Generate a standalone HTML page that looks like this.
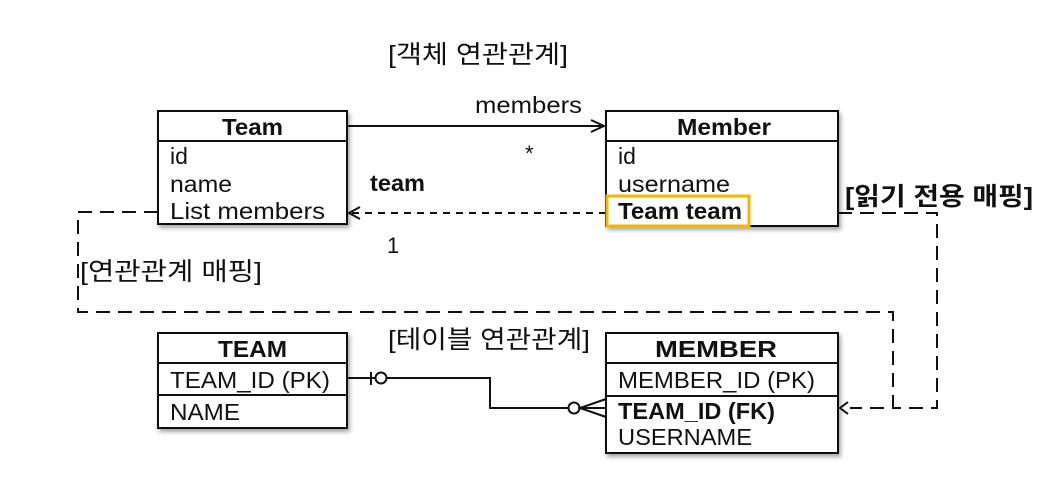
<!DOCTYPE html>
<html><head><meta charset="utf-8"><style>
html,body{margin:0;padding:0;background:#fff;}
svg text{font-family:"Liberation Sans","Noto Sans CJK KR",sans-serif;fill:#111;}
</style></head><body>
<svg width="1042" height="496" viewBox="0 0 1042 496" xmlns="http://www.w3.org/2000/svg">
<defs>
<filter id="sh" x="-5%" y="-5%" width="115%" height="120%"><feDropShadow dx="2" dy="3" stdDeviation="2" flood-color="#000" flood-opacity="0.35"/></filter>
</defs>
<text x="388" y="63" font-size="25" textLength="180" lengthAdjust="spacingAndGlyphs">[객체 연관관계]</text>
<text x="388" y="348" font-size="25" textLength="202" lengthAdjust="spacingAndGlyphs">[테이블 연관관계]</text>
<text x="80" y="280" font-size="25" textLength="182" lengthAdjust="spacingAndGlyphs">[연관관계 매핑]</text>
<text x="845" y="205" font-size="25" font-weight="bold" textLength="188" lengthAdjust="spacingAndGlyphs">[읽기 전용 매핑]</text>

<g fill="none" stroke="#111" stroke-width="2" stroke-dasharray="14,8">
<polyline points="158,212 78,212 78,312 893,312 893,408 850,408"/>
<polyline points="838,213 937,213 937,408 893,408"/>
<line x1="606" y1="213" x2="352" y2="213" stroke-dasharray="7,6"/>
</g>
<polyline points="848,402 840,408 848,414" fill="none" stroke="#111" stroke-width="2"/>
<polyline points="360,207 349,213 360,219" fill="none" stroke="#111" stroke-width="2"/>

<line x1="347" y1="126" x2="603" y2="126" stroke="#111" stroke-width="2"/>
<polyline points="591,120 604,126 591,132" fill="none" stroke="#111" stroke-width="2"/>
<text x="475" y="113" font-size="23" textLength="107" lengthAdjust="spacingAndGlyphs">members</text>
<text x="525" y="161" font-size="22">*</text>
<text x="370" y="191" font-size="23" font-weight="bold" textLength="55" lengthAdjust="spacingAndGlyphs">team</text>
<text x="387" y="253" font-size="22">1</text>

<polyline points="347,378 490,378 490,408 568,408" fill="none" stroke="#111" stroke-width="2"/>
<line x1="371" y1="372" x2="371" y2="385" stroke="#111" stroke-width="2"/>
<circle cx="381" cy="378" r="5.5" fill="#fff" stroke="#111" stroke-width="2"/>
<circle cx="574" cy="408" r="5.5" fill="#fff" stroke="#111" stroke-width="2"/>
<polyline points="606,399 580,408 606,417" fill="none" stroke="#111" stroke-width="2"/>
<line x1="580" y1="408" x2="606" y2="408" stroke="#111" stroke-width="2"/>

<g filter="url(#sh)"><rect x="158" y="111" width="189" height="113" fill="#fff" stroke="#111" stroke-width="2"/></g>
<line x1="158" y1="141" x2="347" y2="141" stroke="#111" stroke-width="2"/>
<text x="222" y="135" font-size="23" font-weight="bold" textLength="61" lengthAdjust="spacingAndGlyphs">Team</text>
<text x="170" y="164" font-size="23">id</text>
<text x="170" y="192" font-size="23" textLength="62" lengthAdjust="spacingAndGlyphs">name</text>
<text x="170" y="219" font-size="23" textLength="155" lengthAdjust="spacingAndGlyphs">List members</text>

<g filter="url(#sh)"><rect x="606" y="111" width="232" height="115" fill="#fff" stroke="#111" stroke-width="2"/></g>
<line x1="606" y1="141" x2="838" y2="141" stroke="#111" stroke-width="2"/>
<text x="677" y="135" font-size="23" font-weight="bold" textLength="94" lengthAdjust="spacingAndGlyphs">Member</text>
<text x="618" y="164" font-size="23">id</text>
<text x="618" y="192" font-size="23" textLength="112" lengthAdjust="spacingAndGlyphs">username</text>
<rect x="607" y="196" width="142" height="30" fill="none" stroke="#f5b800" stroke-width="3"/>
<text x="618" y="219" font-size="23" font-weight="bold" textLength="124" lengthAdjust="spacingAndGlyphs">Team team</text>

<g filter="url(#sh)"><rect x="158" y="333" width="189" height="95" fill="#fff" stroke="#111" stroke-width="2"/></g>
<line x1="158" y1="363" x2="347" y2="363" stroke="#111" stroke-width="2"/>
<line x1="158" y1="395" x2="347" y2="395" stroke="#111" stroke-width="2"/>
<text x="218" y="357" font-size="23" font-weight="bold" textLength="69" lengthAdjust="spacingAndGlyphs">TEAM</text>
<text x="170" y="388" font-size="23" textLength="160" lengthAdjust="spacingAndGlyphs">TEAM_ID (PK)</text>
<text x="170" y="420" font-size="23" textLength="70" lengthAdjust="spacingAndGlyphs">NAME</text>

<g filter="url(#sh)"><rect x="606" y="333" width="232" height="120" fill="#fff" stroke="#111" stroke-width="2"/></g>
<line x1="606" y1="363" x2="838" y2="363" stroke="#111" stroke-width="2"/>
<line x1="606" y1="396" x2="838" y2="396" stroke="#111" stroke-width="2"/>
<text x="655" y="357" font-size="23" font-weight="bold" textLength="122" lengthAdjust="spacingAndGlyphs">MEMBER</text>
<text x="618" y="388" font-size="23" textLength="197" lengthAdjust="spacingAndGlyphs">MEMBER_ID (PK)</text>
<text x="618" y="419" font-size="23" font-weight="bold" textLength="157" lengthAdjust="spacingAndGlyphs">TEAM_ID (FK)</text>
<text x="618" y="445" font-size="23" textLength="134" lengthAdjust="spacingAndGlyphs">USERNAME</text>
</svg>
</body></html>
